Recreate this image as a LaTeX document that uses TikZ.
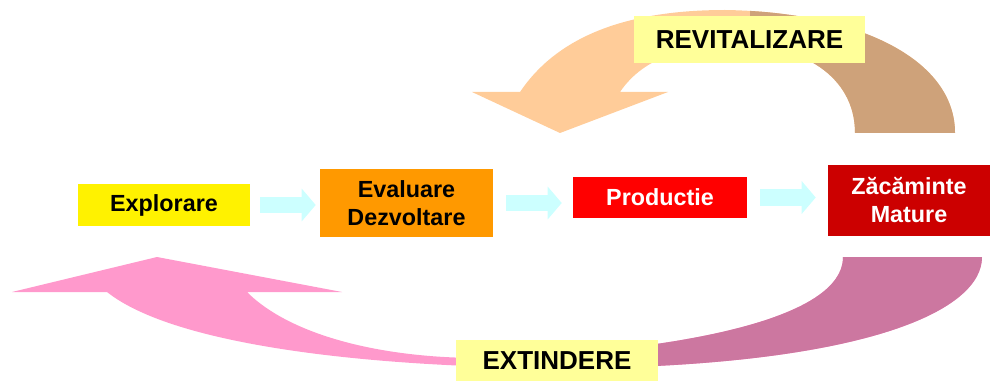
\documentclass[tikz,border=0pt]{standalone}
\usepackage{fontspec}
\setmainfont{Liberation Sans}
\usetikzlibrary{arrows.meta,calc}
\definecolor{peach}{HTML}{FFCC99}
\definecolor{tan}{RGB}{206,162,122}
\definecolor{pinkA}{HTML}{FF99CC}
\definecolor{mauve}{RGB}{204,119,160}
\definecolor{lab}{HTML}{FFFF99}
\definecolor{cyanA}{HTML}{CCFFFF}
\definecolor{orangeA}{HTML}{FF9900}
\definecolor{darkred}{HTML}{CC0000}
\tikzset{
  stagebox/.style={rectangle, inner sep=0pt, align=center, font=\fontsize{17.5}{21}\selectfont\bfseries},
  cyclelabel/.style={rectangle, fill=lab, inner sep=0pt, font=\fontsize{19.5}{23}\selectfont\bfseries},
  flowarrow/.style={draw=cyanA, line width=12pt, -{Triangle[length=10.5pt,width=24pt]}, color=cyanA}
}
\begin{document}
\begin{tikzpicture}[x=0.75pt,y=-0.75pt]
\useasboundingbox (0,0) rectangle (992,381);
% top cycle arrow
\def\toparc{(955,133) .. controls (955,60) and (860,12) .. (725,10)
  .. controls (620,10) and (555,40) .. (520,92) -- (472,92) -- (560,133) -- (668,92) -- (620,92)
  .. controls (645,55) and (690,45) .. (740,45) .. controls (800,45) and (855,75) .. (855,133) -- cycle}
\fill[peach] \toparc;
\begin{scope}
  \clip (750,0) rectangle (992,200);
  \fill[tan] \toparc;
\end{scope}
% bottom cycle arrow
\def\botarc{(107,292) -- (12,292) -- (157,257) -- (342,292) -- (247,292)
  .. controls (290,335) and (380,358) .. (480,358) .. controls (620,355) and (843,330) .. (843,257)
  -- (982,257) .. controls (982,310) and (870,362) .. (600,368)
  .. controls (400,370) and (180,350) .. (107,292) -- cycle}
\fill[pinkA] \botarc;
\begin{scope}
  \clip (557,240) rectangle (992,381);
  \fill[mauve] \botarc;
\end{scope}
% stages
\node[stagebox, fill=yellow, minimum width=129pt, minimum height=30.75pt] (expl) at (164,205) {Explorare};
\node[stagebox, fill=orangeA, minimum width=129.75pt, minimum height=51pt] (eval) at (406.5,203) {Evaluare\\Dezvoltare};
\node[stagebox, fill=red, text=white, minimum width=130.5pt, minimum height=30.75pt] (prod) at (660,197.5) {Productie};
\node[stagebox, fill=darkred, text=white, minimum width=121.5pt, minimum height=53.25pt] (zac) at (909,200.5) {Zăcăminte\\Mature};
% labels
\node[cyclelabel, minimum width=173.25pt, minimum height=35.25pt] (revit) at (749.5,39.5) {REVITALIZARE};
\node[cyclelabel, minimum width=151.5pt, minimum height=31pt] (ext) at (557,360.5) {EXTINDERE};
% flow arrows
\coordinate (a1s) at ($(expl.east)+(10,0)$);
\coordinate (a1e) at ($(eval.west |- a1s)+(-4,0)$);
\draw[flowarrow] (a1s) -- (a1e);
\coordinate (a2s) at ($(eval.east)+(13,0)$);
\coordinate (a2e) at ($(prod.west |- a2s)+(-11,0)$);
\draw[flowarrow] (a2s) -- (a2e);
\coordinate (a3s) at ($(prod.east)+(13,0)$);
\coordinate (a3e) at ($(zac.west |- a3s)+(-12,0)$);
\draw[flowarrow] (a3s) -- (a3e);
\end{tikzpicture}
\end{document}
